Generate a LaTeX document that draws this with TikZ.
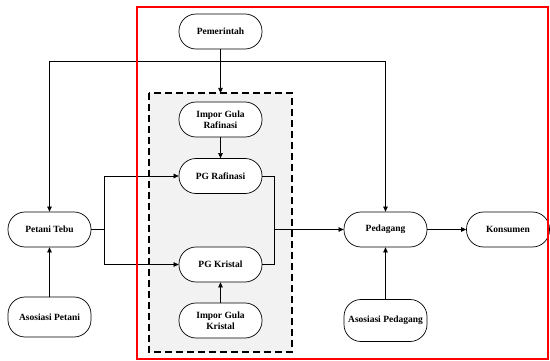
\documentclass[tikz,border=0pt]{standalone}
\usepackage{fontspec}
\setmainfont{Liberation Serif}
\usetikzlibrary{arrows.meta}

\begin{document}
\begin{tikzpicture}[x=1pt,y=-1pt,
    aktor/.style={draw, line width=0.7pt, rounded corners=17pt, fill=white, minimum width=83pt,
      minimum height=35pt, align=center, inner sep=1pt,
      font=\fontsize{9.5}{11}\selectfont\bfseries},
    alir/.style={-{Triangle[length=5pt,width=4.5pt]}, line width=0.6pt},
    garis/.style={line width=0.6pt}]
        \useasboundingbox (0,0) rectangle (550,361);

        % Kotak industri gula (garis putus-putus)
        \draw[line width=1.4pt, dash pattern=on 7pt off 4pt, fill=gray!10] (149,93) rectangle (292,352);

        % Aktor
        \node[aktor] (pemerintah) at (220.5,31.5) {Pemerintah};
        \node[aktor] (imporraf) at (220.5,119.5) {Impor Gula\\Rafinasi};
        \node[aktor] (pgraf) at (220.5,176) {PG Rafinasi};
        \node[aktor] (pgkri) at (220.5,264.5) {PG Kristal};
        \node[aktor] (imporkri) at (220.5,320.5) {Impor Gula\\Kristal};
        \node[aktor] (petani) at (49.5,229.5) {Petani Tebu};
        \node[aktor, minimum height=40pt] (asospetani) at (49.5,317) {Asosiasi Petani};
        \node[aktor] (pedagang) at (385.5,229.5) {Pedagang};
        \node[aktor] (konsumen) at (508,229.5) {Konsumen};
        \node[aktor, minimum height=42pt] (asospedagang) at (385.5,320.5) {Asosiasi Pedagang};

        % Titik bantu
        \coordinate (kluster) at (220.5,93);
        \coordinate (bagi) at (220.5,61);
        \coordinate (cabang) at (104,229.5);
        \coordinate (gabung) at (274,229.5);

        % Pemerintah
        \draw[alir] (pemerintah) -- (kluster);
        \draw[alir] (bagi) -| (petani);
        \draw[alir] (bagi) -| (pedagang);

        % Petani ke pabrik gula
        \draw[garis] (petani) -- (cabang);
        \draw[alir] (cabang) |- (pgraf);
        \draw[alir] (cabang) |- (pgkri);

        % Impor
        \draw[alir] (imporraf) -- (pgraf);
        \draw[alir] (imporkri) -- (pgkri);

        % Pabrik gula ke pedagang
        \draw[garis] (pgraf) -| (gabung);
        \draw[garis] (pgkri) -| (gabung);
        \draw[alir] (gabung) -- (pedagang);
        \draw[alir] (pedagang) -- (konsumen);

        % Asosiasi
        \draw[alir] (asospetani) -- (petani);
        \draw[alir] (asospedagang) -- (pedagang);

        % Batas kotak merah
        \draw[red, line width=1.5pt] (137,7) rectangle (548,359);
    \end{tikzpicture}
\end{document}
